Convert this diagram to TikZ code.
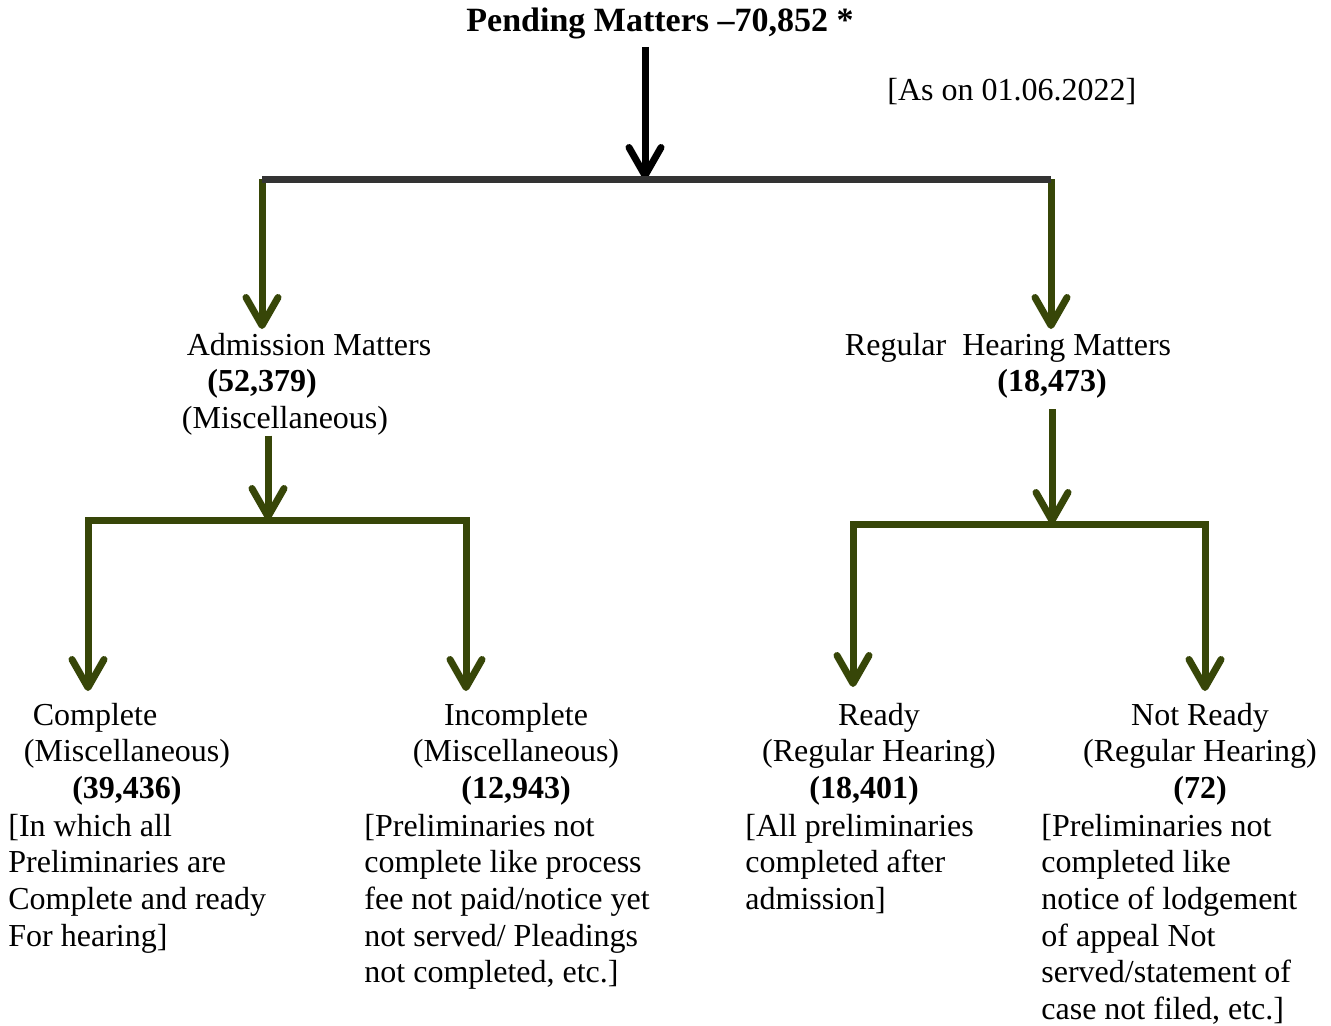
\documentclass[tikz,border=0pt]{standalone}
\usepackage{fontspec}
\setmainfont{Liberation Serif}
\usetikzlibrary{arrows.meta}
\definecolor{olivebar}{RGB}{55,70,8}
\definecolor{greybar}{RGB}{51,51,51}

\begin{document}
\begin{tikzpicture}[x=0.5pt,y=-0.5pt,
    txt/.style={inner sep=0pt,font=\fontsize{16}{18.35}\selectfont},
    hd/.style={txt,anchor=north,align=center},
    note/.style={txt,anchor=north west,align=left},
    link/.style={line width=3.5pt,draw=olivebar,-{Straight Barb[length=14pt,width=16pt,round]}}]
  \useasboundingbox (0,0) rectangle (1331,1025);
  % heading and date
  \node[inner sep=0pt,anchor=base,font=\fontsize{17}{20}\selectfont\bfseries] (title) at (660,31) {Pending Matters –70,852 *};
  \node[txt,anchor=base west] (date) at (887,100) {[As on 01.06.2022]};
  % split points
  \coordinate (tl) at (262,179);
  \coordinate (tm) at (645,179);
  \coordinate (tr) at (1051,179);
  \coordinate (lm) at (268,520);
  \coordinate (ll) at (88,520);
  \coordinate (lr) at (466,520);
  \coordinate (rm) at (1052,524);
  \coordinate (rl) at (853,524);
  \coordinate (rr) at (1205,524);
  % second level
  \node[hd] (adm) at (285,329) {\strut\hbox{\kern24pt Admission Matters}\\ \hbox{\textbf{(52,379)}\kern23pt}\\ (Miscellaneous)};
  \node[hd] (reg) at (1008,329) {\strut Regular\ \ Hearing Matters\\ \hbox{\kern44pt\textbf{(18,473)}}};
  % third level
  \node[hd] (cmp) at (127,699) {\strut\hbox{Complete\kern32pt}\\ (Miscellaneous)\\ \textbf{(39,436)}};
  \node[note] (cmpnote) at (8,810) {\strut[In which all\\ Preliminaries are\\ Complete and ready\\ For hearing]};
  \node[hd] (inc) at (516,699) {\strut Incomplete\\ (Miscellaneous)\\ \textbf{(12,943)}};
  \node[note] (incnote) at (364,810) {\strut[Preliminaries not\\ complete like process\\ fee not paid/notice yet\\ not served/ Pleadings\\ not completed, etc.]};
  \node[hd] (rdy) at (879,699) {\strut Ready\\ (Regular Hearing)\\ \hbox{\textbf{(18,401)}\kern15pt}};
  \node[note] (rdynote) at (745,810) {\strut[All preliminaries\\ completed after\\ admission]};
  \node[hd] (nrdy) at (1200,699) {\strut Not Ready\\ (Regular Hearing)\\ \textbf{(72)}};
  \node[note] (nrdynote) at (1041,810) {\strut[Preliminaries not\\ completed like\\ notice of lodgement\\ of appeal Not\\ served/statement of\\ case not filed, etc.]};
  % connectors
  \draw[link,draw=black,shorten <=4pt] (title.south -| tm) -- (tm);
  \draw[link] (tl) -- (tl |- adm.north);
  \draw[link] (tr) -- (tr |- reg.north);
  \draw[line width=3.5pt,draw=greybar] (tl) -- (tr);
  \draw[link] (adm.south -| lm) -- (lm);
  \draw[link,shorten >=4pt] (lm) -| (ll |- cmp.north);
  \draw[link,shorten >=4pt] (lm) -| (lr |- inc.north);
  \draw[link,shorten <=5pt] (reg.south -| rm) -- (rm);
  \draw[link,shorten >=6pt] (rm) -| (rl |- rdy.north);
  \draw[link,shorten >=4pt] (rm) -| (rr |- nrdy.north);
\end{tikzpicture}
\end{document}
